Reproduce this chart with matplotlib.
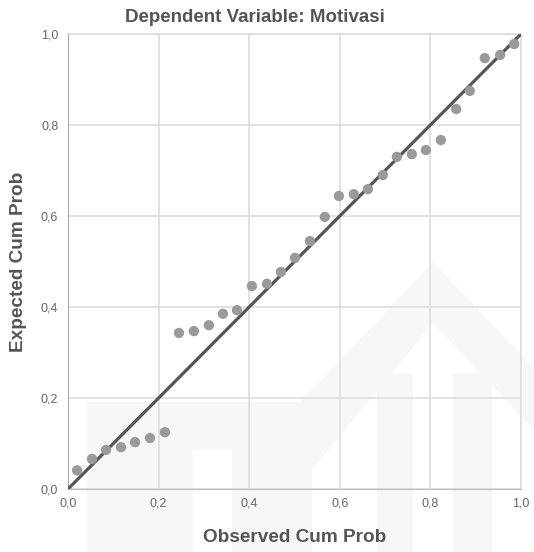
import matplotlib.pyplot as plt
from matplotlib.patches import Polygon, Rectangle
from matplotlib.ticker import FuncFormatter

# Observed vs expected cumulative probabilities
observed = [0.020, 0.053, 0.084, 0.117, 0.148, 0.181, 0.214, 0.245, 0.278, 0.311,
            0.342, 0.373, 0.406, 0.439, 0.470, 0.501, 0.534, 0.567, 0.598, 0.631,
            0.662, 0.695, 0.726, 0.759, 0.790, 0.823, 0.857, 0.887, 0.920, 0.954, 0.985]
expected = [0.041, 0.066, 0.086, 0.092, 0.103, 0.112, 0.125, 0.343, 0.347, 0.360,
            0.385, 0.393, 0.446, 0.451, 0.477, 0.508, 0.545, 0.598, 0.644, 0.648,
            0.659, 0.690, 0.730, 0.736, 0.745, 0.767, 0.835, 0.875, 0.947, 0.954, 0.978]
ticks = [0.0, 0.2, 0.4, 0.6, 0.8, 1.0]

plt.rcParams['font.family'] = ['Liberation Sans', 'DejaVu Sans']

W, H = 534, 552
fig = plt.figure(figsize=(W / 100, H / 100), dpi=100)
ax = fig.add_axes([68 / W, 1 - 489 / H, (521 - 68) / W, (489 - 34) / H])
ax.set_facecolor('none')

# faint watermark behind the plot (pixel coords -> figure fraction)
wm = '#f7f7f7'
def px(pts):
    return [(x / W, 1 - y / H) for x, y in pts]
shapes = [
    Rectangle((87 / W, 0), (300 - 87) / W, 1 - 402 / H),
    Polygon(px([(300, 402), (433, 262), (534, 368), (534, 552), (300, 552)])),
]
for s in shapes:
    s.set_transform(fig.transFigure)
    s.set_facecolor(wm)
    s.set_edgecolor('none')
    s.set_zorder(-10)
    fig.patches.append(s)
holes = [
    Rectangle((126 / W, 0), (193 - 126) / W, 1 - 610 / H),
    Rectangle((193 / W, 0), (232 - 193) / W, 1 - 450 / H),
    Polygon(px([(312, 552), (312, 470), (433, 323), (534, 430), (534, 552)])),
]
for s in holes:
    s.set_transform(fig.transFigure)
    s.set_facecolor('white')
    s.set_edgecolor('none')
    s.set_zorder(-9)
    fig.patches.append(s)
bars = [
    Rectangle((377 / W, 0), (413 - 377) / W, 1 - 373 / H),
    Rectangle((453 / W, 0), (492 - 453) / W, 1 - 373 / H),
]
for s in bars:
    s.set_transform(fig.transFigure)
    s.set_facecolor(wm)
    s.set_edgecolor('none')
    s.set_zorder(-8)
    fig.patches.append(s)

ax.plot([0, 1], [0, 1], color='#555555', lw=2.3, zorder=3, solid_capstyle='butt')
ax.scatter(observed, expected, s=55, color='#9a9a9a', edgecolors='none', zorder=4)

ax.set_xlim(0, 1)
ax.set_ylim(0, 1)
ax.set_xticks(ticks)
ax.set_yticks(ticks)
fmt = FuncFormatter(lambda v, p: f"{v:.1f}".replace('.', ','))
ax.xaxis.set_major_formatter(fmt)
ax.yaxis.set_major_formatter(fmt)
ax.tick_params(length=0, labelsize=9, colors='#666666')
ax.tick_params(axis='x', pad=6)
ax.tick_params(axis='y', pad=7)
ax.grid(color='#dddddd', lw=1.2)
ax.set_axisbelow(True)
for side in ['top', 'right']:
    ax.spines[side].set_color('#dddddd')
    ax.spines[side].set_linewidth(1.2)
ax.spines['left'].set_color('#aaaaaa')
ax.spines['bottom'].set_color('#bbbbbb')

fig.text(255 / W, 1 - 17 / H, "Dependent Variable: Motivasi", fontsize=13.5,
         fontweight='bold', color='#555555', ha='center', va='center')
ax.set_xlabel("Observed Cum Prob", fontsize=13.7, fontweight='bold',
              color='#555555', labelpad=14)
ax.set_ylabel("Expected Cum Prob", fontsize=13.7, fontweight='bold',
              color='#555555', labelpad=10)

fig.savefig('out.png', dpi=100)
